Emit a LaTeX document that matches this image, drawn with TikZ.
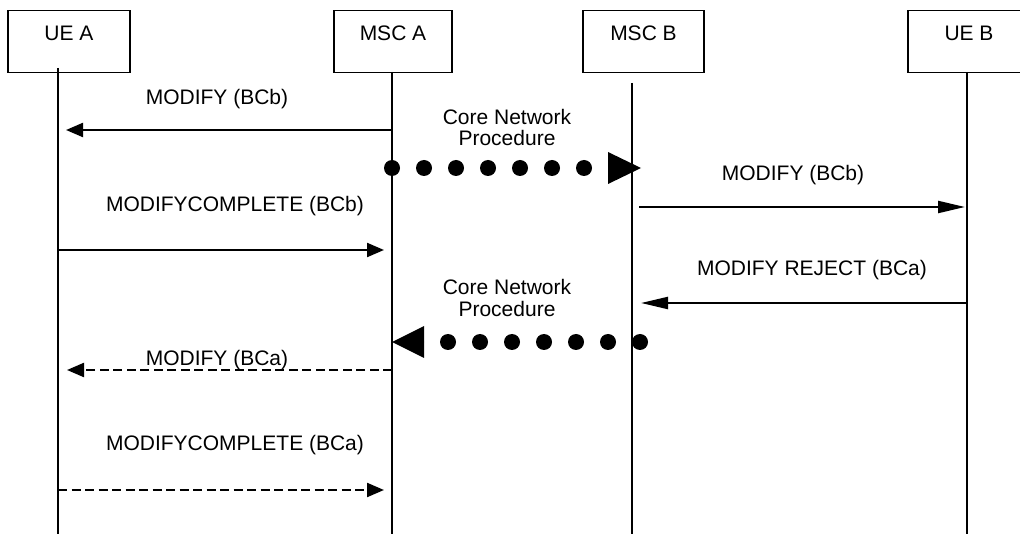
\documentclass[tikz,border=0pt]{standalone}
\usepackage{fontspec}
\setmainfont{Liberation Sans}
\usetikzlibrary{arrows.meta}
\tikzset{
  txt/.style={font=\fontsize{21}{25}\selectfont},
  box/.style={draw, rectangle, line width=1.5pt, txt, inner xsep=0pt,
    inner ysep=10pt, text height=20pt, text depth=21.6pt, minimum height=61.6pt},
  life/.style={line width=1.5pt},
  msg/.style={line width=2.2pt},
  shorthead/.style={-{Triangle[length=17pt,width=14pt]}},
  longhead/.style={-{Triangle[length=27pt,width=12pt]}},
  dashedmsg/.style={dash pattern=on 9pt off 4.5pt},
  dotflow/.style={line width=16pt, line cap=round, dash pattern=on 0pt off 32pt},
  lbl/.style={txt, anchor=base, inner sep=0pt},
}
\begin{document}
\begin{tikzpicture}[x=1pt, y=-1pt]
\clip (0,0) rectangle (1020,534);
\fill[white] (0,0) rectangle (1020,534);

% entities
\node[box, minimum width=122pt] (ueA)  at (69,41.5)    {UE A};
\node[box, minimum width=118pt] (mscA) at (393,41.5)   {MSC A};
\node[box, minimum width=121pt] (mscB) at (643.5,41.5) {MSC B};
\node[box, minimum width=122pt] (ueB)  at (969,41.5)   {UE B};

% lifelines
\coordinate (ueAtop)  at (58,68);   \coordinate (ueAbot)  at (58,534);
\coordinate (mscAtop) at (392,72);  \coordinate (mscAbot) at (392,534);
\coordinate (mscBtop) at (632,83);  \coordinate (mscBbot) at (632,534);
\coordinate (ueBtop)  at (967,72);  \coordinate (ueBbot)  at (967,534);
\draw[life] (ueAtop) -- (ueAbot);
\draw[life] (mscAtop) -- (mscAbot);
\draw[life] (mscBtop) -- (mscBbot);
\draw[life] (ueBtop) -- (ueBbot);

% message end points
\coordinate (a1s) at (392,130); \coordinate (a1e) at (66,130);
\coordinate (p1s) at (392,168); \coordinate (p1e) at (641,168);
\coordinate (a2s) at (639,207); \coordinate (a2e) at (965,207);
\coordinate (a3s) at (58,250);  \coordinate (a3e) at (384,250);
\coordinate (a4s) at (967,303); \coordinate (a4e) at (641,303);
\coordinate (p2s) at (640,342); \coordinate (p2e) at (392,342);
\coordinate (a5s) at (392,370); \coordinate (a5e) at (67,370);
\coordinate (a6s) at (58,490);  \coordinate (a6e) at (384,490);

% messages
\draw[msg, shorthead] (a1s) -- (a1e);
\draw[dotflow] (p1s) -- (p1e);
\fill (p1e) -- ++(-33,-16) -- ++(0,32) -- cycle;
\draw[msg, longhead] (a2s) -- (a2e);
\draw[msg, shorthead] (a3s) -- (a3e);
\draw[msg, longhead] (a4s) -- (a4e);
\draw[dotflow] (p2s) -- (p2e);
\fill (p2e) -- ++(32,-16) -- ++(0,32) -- cycle;
\draw[msg, dashedmsg, shorthead] (a5s) -- (a5e);
\draw[msg, dashedmsg, shorthead] (a6s) -- (a6e);

% labels
\node[lbl] (l1)  at (217,105)   {MODIFY (BCb)};
\node[lbl] (c1a) at (507,125)   {Core Network};
\node[lbl] (c1b) at (507,146)   {Procedure};
\node[lbl] (l2)  at (793,180.5) {MODIFY (BCb)};
\node[lbl] (l3)  at (235,211.5) {MODIFYCOMPLETE (BCb)};
\node[lbl] (l4)  at (812,275.5) {MODIFY REJECT (BCa)};
\node[lbl] (c2a) at (507,294.5) {Core Network};
\node[lbl] (c2b) at (507,317)   {Procedure};
\node[lbl] (l5)  at (217,365.5) {MODIFY (BCa)};
\node[lbl] (l6)  at (235,450)   {MODIFYCOMPLETE (BCa)};
\end{tikzpicture}
\end{document}
